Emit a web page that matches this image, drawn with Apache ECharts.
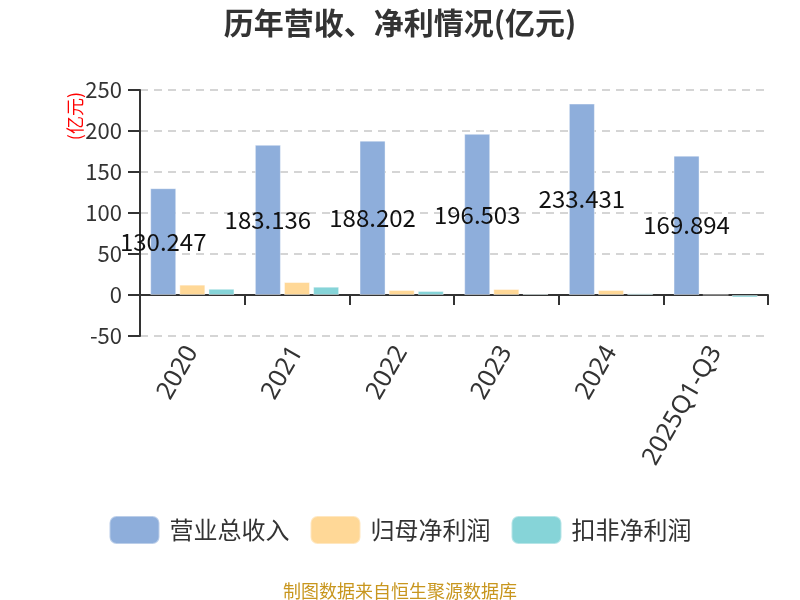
<!DOCTYPE html>
<html>
<head>
    <meta charset="utf-8">
    <title>历年营收、净利情况</title>
    <script src="https://cdn.jsdelivr.net/npm/echarts@6/dist/echarts.min.js"></script>
    <style>
        *{margin:0;padding:0;}
        html,body{width:100%;height:100%;overflow:hidden;background:#fff;}
        #main{width:800px;height:600px;}
    </style>
</head>
<body>
<div id="main"></div>
<script>
    // 数据
    const years = ['2020', '2021', '2022', '2023', '2024', '2025Q1-Q3'];
    const revenue = [130.247, 183.136, 188.202, 196.503, 233.431, 169.894];
    const netProfit = [12.6, 15.8, 6.1, 7.3, 6.1, 0.3];
    const deductedProfit = [7.6, 10.1, 4.9, 1.5, 2.0, -3.0];
    const seriesNames = ['营业总收入', '归母净利润', '扣非净利润'];

    const font = '"Noto Sans CJK SC", "Noto Sans", sans-serif';
    let myChart = echarts.init(document.getElementById('main'));

    let option = {
        backgroundColor: '#fff',
        color: ['#8eaedb', '#ffd897', '#86d4d8'],
        title: [{
            text: '历年营收、净利情况(亿元)',
            left: 'center',
            top: 3,
            textStyle: {fontSize: 30, fontWeight: 'bold', color: '#333', fontFamily: font}
        }, {
            text: '制图数据来自恒生聚源数据库',
            left: 'center',
            top: 577,
            textStyle: {fontSize: 18, fontWeight: 'normal', color: '#c8961e', fontFamily: font}
        }],
        graphic: [{
            type: 'text',
            left: 66,
            top: 92,
            rotation: Math.PI / 2,
            style: {text: '(亿元)', fill: 'red', fontSize: 18, fontFamily: font}
        }],
        legend: {
            data: seriesNames,
            bottom: 50,
            left: 'center',
            itemWidth: 50,
            itemHeight: 28,
            itemGap: 20,
            icon: 'roundRect',
            textStyle: {fontSize: 24, color: '#333', fontFamily: font, padding: [0, 0, 0, 5]}
        },
        grid: {left: 140, right: 32, top: 90, bottom: 264, containLabel: false},
        xAxis: {
            type: 'category',
            data: years,
            axisLine: {onZero: true, lineStyle: {color: '#333', width: 2}},
            axisTick: {show: true, length: 10, lineStyle: {color: '#333', width: 2}},
            axisLabel: {
                rotate: 60,
                margin: 12,
                fontSize: 25,
                color: '#333',
                fontFamily: '"Noto Sans", sans-serif'
            }
        },
        yAxis: {
            type: 'value',
            min: -50,
            max: 250,
            interval: 50,
            axisLine: {show: true, lineStyle: {color: '#333', width: 2}},
            axisTick: {show: true, length: 12, lineStyle: {color: '#333', width: 2}},
            axisLabel: {fontSize: 22, color: '#333', margin: 18, fontFamily: font},
            splitLine: {lineStyle: {type: [8, 6], color: '#c8c8c8', width: 1.5}}
        },
        series: [{
            name: seriesNames[0],
            type: 'bar',
            data: revenue,
            barWidth: 26,
            barGap: '12%',
            itemStyle: {borderColor: 'rgba(255,255,255,0.4)', borderWidth: 1},
            label: {
                show: true,
                position: 'inside',
                color: '#111',
                fontSize: 24,
                fontFamily: font
            }
        }, {
            name: seriesNames[1],
            type: 'bar',
            data: netProfit,
            barWidth: 26,
            barGap: '12%',
            itemStyle: {borderColor: 'rgba(255,255,255,0.4)', borderWidth: 1}
        }, {
            name: seriesNames[2],
            type: 'bar',
            data: deductedProfit,
            barWidth: 26,
            barGap: '12%',
            itemStyle: {borderColor: 'rgba(255,255,255,0.4)', borderWidth: 1}
        }]
    };
    myChart.setOption(option);
</script>
</body>
</html>
